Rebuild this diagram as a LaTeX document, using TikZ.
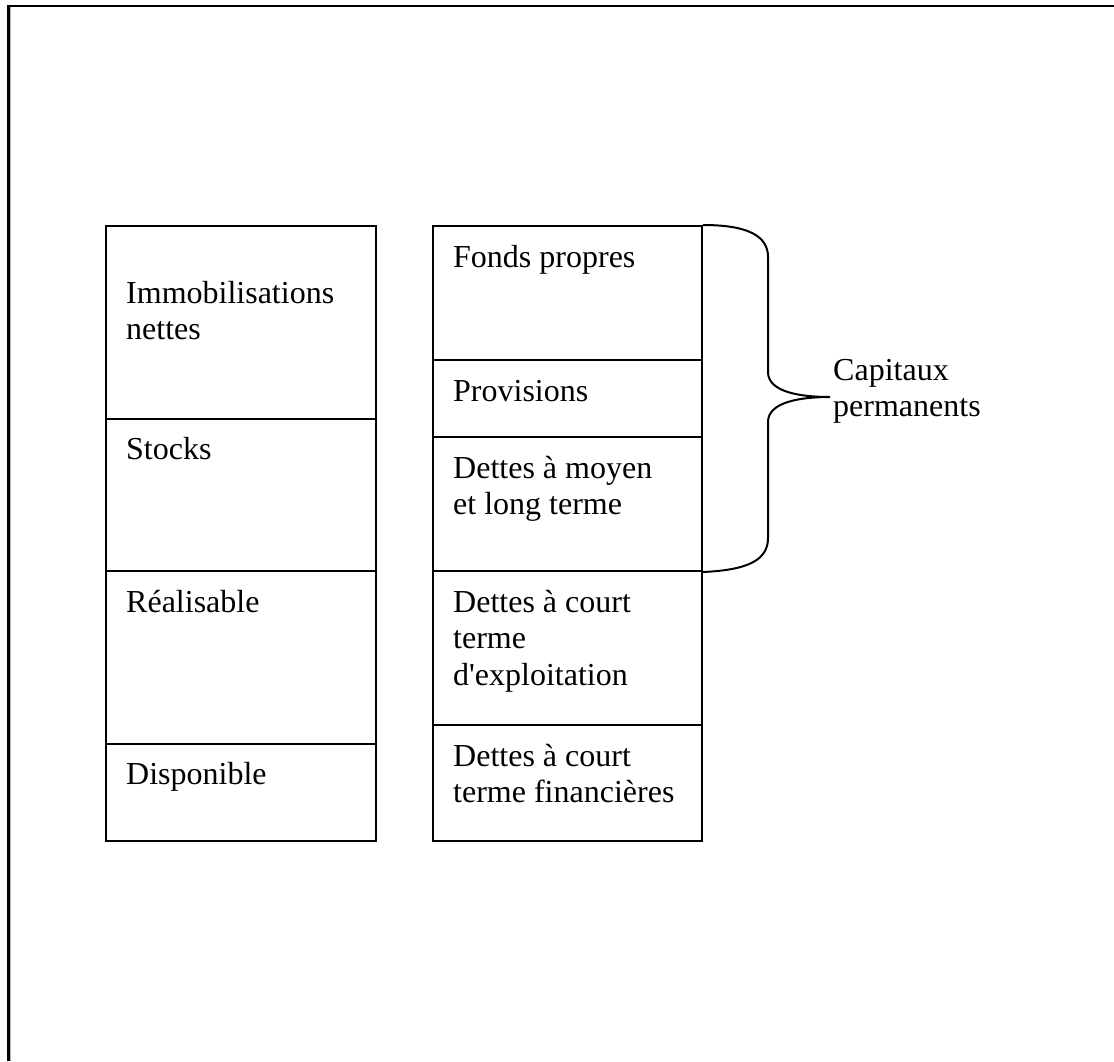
\documentclass[tikz,border=0pt]{standalone}
\usepackage{fontspec}
\setmainfont{Liberation Serif}[Ligatures=TeXOff]
\begin{document}
\begin{tikzpicture}[x=1pt,y=-1pt,
  cell/.style={draw=black,line width=2pt,inner sep=0pt,anchor=north west},
  lbl/.style={inner sep=0pt,anchor=base west,font=\fontsize{32}{36.5}\selectfont},
  bracestyle/.style={draw=black,line width=2pt}]
\useasboundingbox (0,0) rectangle (1114,1061);
% outer frame (top and left edges only)
\coordinate (fbl) at (8.5,1061);
\coordinate (ftl) at (8.5,6);
\coordinate (ftr) at (1114,6);
\draw[gray!60,line width=1pt] (10.5,1061) -- (10.5,7);
\draw[black,line width=2.4pt] (fbl) -- (ftl) -- (ftr);
% left column
\node[cell,minimum width=270pt,minimum height=193pt] (immo) at (105,225) {};
\node[cell,minimum width=270pt,minimum height=152pt] (stock) at (105,418) {};
\node[cell,minimum width=270pt,minimum height=173pt] (real) at (105,570) {};
\node[cell,minimum width=270pt,minimum height=97pt] (disp) at (105,743) {};
% right column
\node[cell,minimum width=269pt,minimum height=134pt] (fp) at (432,225) {};
\node[cell,minimum width=269pt,minimum height=77pt] (prov) at (432,359) {};
\node[cell,minimum width=269pt,minimum height=134pt] (dmlt) at (432,436) {};
\node[cell,minimum width=269pt,minimum height=154pt] (dcte) at (432,570) {};
\node[cell,minimum width=269pt,minimum height=116pt] (dctf) at (432,724) {};
% labels
\node[lbl] (timmo) at (126,303) {\begin{tabular}[t]{@{}l@{}}Immobilisations\\nettes\end{tabular}};
\node[lbl] (tstock) at (126,459) {Stocks};
\node[lbl] (treal) at (126,612) {Réalisable};
\node[lbl] (tdisp) at (126,784) {Disponible};
\node[lbl] (tfp) at (453,267) {Fonds propres};
\node[lbl] (tprov) at (453,401) {Provisions};
\node[lbl] (tdmlt) at (453,478) {\begin{tabular}[t]{@{}l@{}}Dettes à moyen\\et long terme\end{tabular}};
\node[lbl] (tdcte) at (453,612) {\begin{tabular}[t]{@{}l@{}}Dettes à court\\terme\\d'exploitation\end{tabular}};
\node[lbl] (tdctf) at (453,766) {\begin{tabular}[t]{@{}l@{}}Dettes à court\\terme financières\end{tabular}};
\node[lbl] (tcap) at (833,380) {\begin{tabular}[t]{@{}l@{}}Capitaux\\permanents\end{tabular}};
% brace
\coordinate (tip) at (830,397);
\draw[bracestyle] (fp.north east) .. controls (748,225) and (768,236) .. (768,257)
  -- (768,372) .. controls (768,392) and (800,397) .. (tip)
  .. controls (800,397) and (768,402) .. (768,422)
  -- (768,538) .. controls (768,560) and (748,570) .. (dmlt.south east);
\end{tikzpicture}
\end{document}
